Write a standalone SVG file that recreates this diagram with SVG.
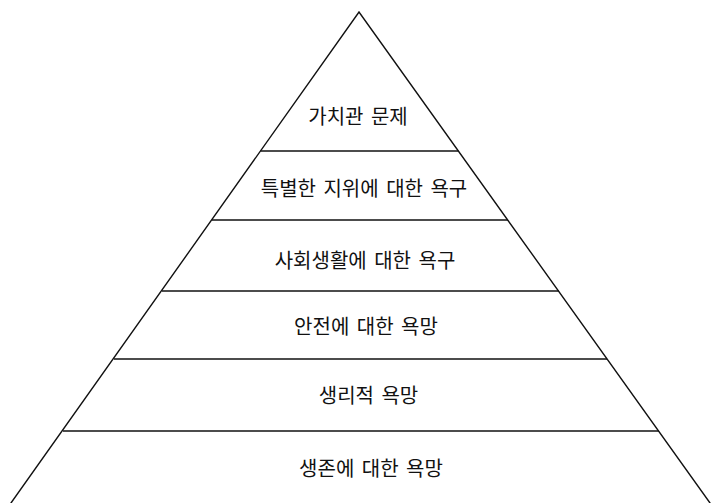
<svg xmlns="http://www.w3.org/2000/svg" width="711" height="503" viewBox="0 0 711 503">
<style>
.edge{stroke:#111;stroke-width:1.4;fill:none;stroke-linecap:round;stroke-linejoin:miter}
.div{stroke:#111;stroke-width:1.3;fill:none}
.lbl{font-family:"Noto Sans CJK KR","Noto Sans",sans-serif;font-size:20px;word-spacing:3px;fill:#111;text-anchor:middle;dominant-baseline:central}
</style>
<rect width="711" height="503" fill="#fff"/>
<g id="pyramid-outline">
<polyline class="edge" points="11,503 359,12 710,503"/>
</g>
<g id="connectors">
<line class="div" x1="260.5" y1="151" x2="458.5" y2="151"/>
<line class="div" x1="212" y1="220" x2="508" y2="220"/>
<line class="div" x1="162" y1="291" x2="559" y2="291"/>
<line class="div" x1="114" y1="359" x2="607" y2="359"/>
<line class="div" x1="63" y1="431" x2="659" y2="431"/>
</g>
<g id="layer-values"><text class="lbl" x="358" y="115">가치관 문제</text></g>
<g id="layer-status"><text class="lbl" x="364" y="187">특별한 지위에 대한 욕구</text></g>
<g id="layer-social"><text class="lbl" x="365" y="259">사회생활에 대한 욕구</text></g>
<g id="layer-safety"><text class="lbl" x="366" y="325">안전에 대한 욕망</text></g>
<g id="layer-physiological"><text class="lbl" x="368.5" y="394.5">생리적 욕망</text></g>
<g id="layer-survival"><text class="lbl" x="371" y="467">생존에 대한 욕망</text></g>
</svg>
